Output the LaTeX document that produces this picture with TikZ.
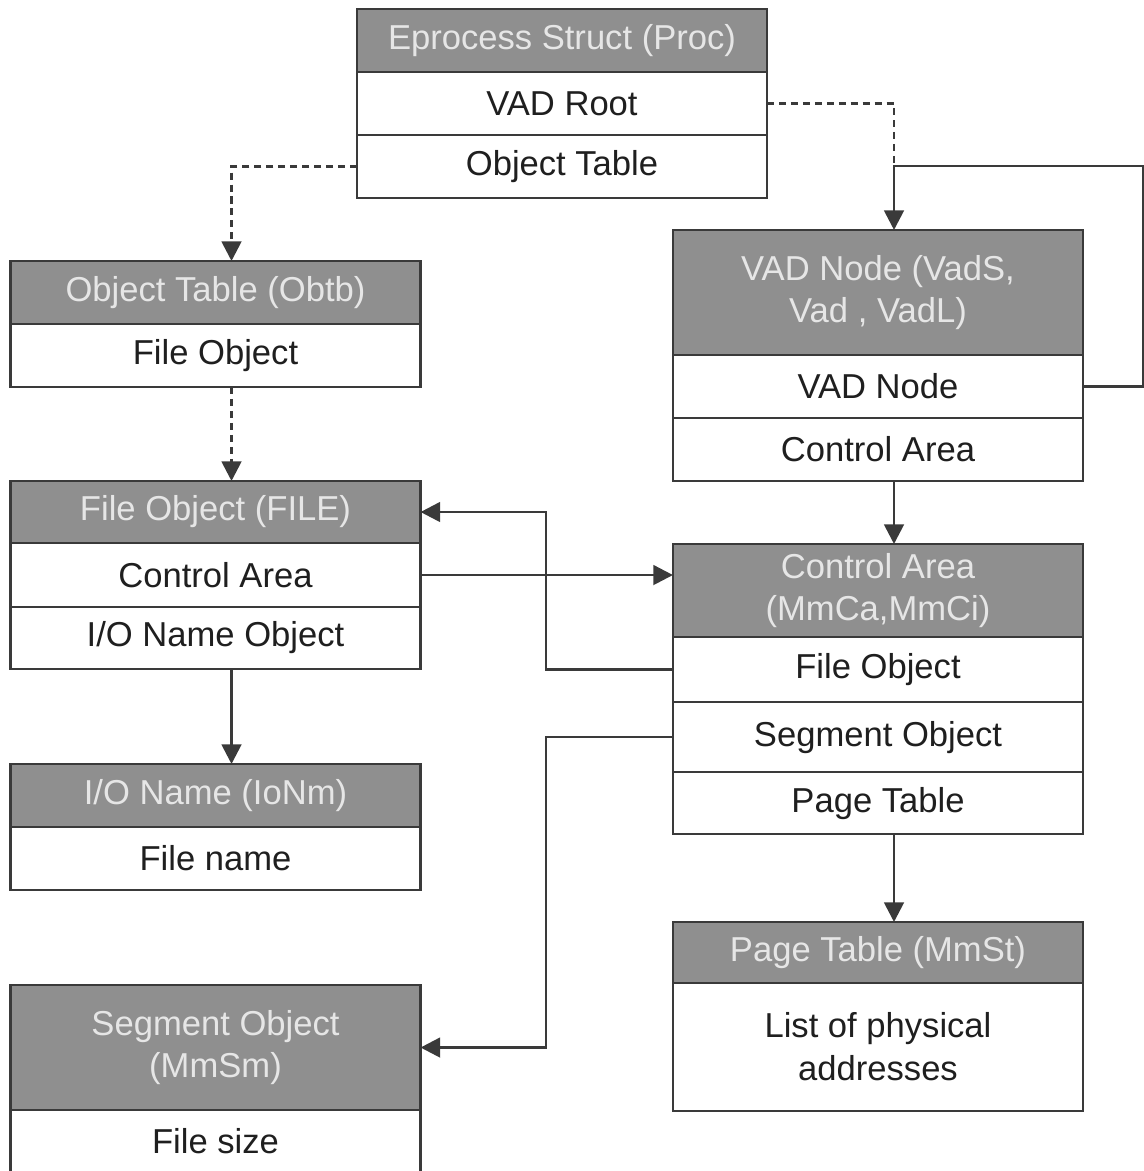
\documentclass[tikz,border=0pt]{standalone}
\usepackage{fontspec}
\setmainfont{Liberation Sans}
\usetikzlibrary{positioning,arrows.meta}
\definecolor{hdrgray}{HTML}{8F8F8F}
\definecolor{hdrtext}{HTML}{E6E6E6}
\definecolor{boxline}{HTML}{3A3A3A}
\tikzset{
	field/.style={draw=boxline, line width=2pt, fill=white, text=black!88,
		minimum width=10.25cm, minimum height=1.575cm, inner sep=0pt, outer sep=0pt, align=center},
	header/.style={field, fill=hdrgray, text=hdrtext},
	link/.style={draw=boxline, line width=2pt, -{Triangle[length=14pt,width=14pt]}},
	ptr/.style={link, dash pattern=on 5pt off 3.5pt},
}
\begin{document}
\begin{tikzpicture}[x=0.025cm, y=-0.025cm, font=\fontsize{24.6pt}{30.5pt}\selectfont]
	\useasboundingbox (0,0) rectangle (1144,1171);
	\def\ax{0.4cm}
	% Eprocess
	\node[header, anchor=north] (procHead) at (562,9) {Eprocess Struct (Proc)};
	\node[field, below=0pt of procHead] (procVad) {VAD Root};
	\node[field, below=0pt of procVad] (procObj) {Object Table};
	% object table
	\node[header, anchor=north] (obtbHead) at (215.5,261) {Object Table (Obtb)};
	\node[field, below=0pt of obtbHead] (obtbFile) {File Object};
	% VAD node
	\node[header, anchor=north, minimum height=3.125cm] (vadHead) at (878,230) {VAD Node (VadS,\\Vad , VadL)};
	\node[field, below=0pt of vadHead] (vadNode) {VAD Node};
	\node[field, below=0pt of vadNode] (vadCA) {Control Area};
	% file object
	\node[header, anchor=north, minimum height=1.55cm] (fileHead) at (215.5,481) {File Object (FILE)};
	\node[field, below=0pt of fileHead, minimum height=1.6cm] (fileCA) {Control Area};
	\node[field, below=0pt of fileCA, minimum height=1.55cm] (fileIO) {I/O Name Object};
	% control area
	\node[header, anchor=north, minimum height=2.325cm] (caHead) at (878,544) {Control Area\\(MmCa,MmCi)};
	\node[field, below=0pt of caHead, minimum height=1.625cm] (caFile) {File Object};
	\node[field, below=0pt of caFile, minimum height=1.75cm] (caSeg) {Segment Object};
	\node[field, below=0pt of caSeg, minimum height=1.55cm] (caPage) {Page Table};
	% I/O name
	\node[header, anchor=north] (ioHead) at (215.5,764) {I/O Name (IoNm)};
	\node[field, below=0pt of ioHead] (ioName) {File name};
	% page table
	\node[header, anchor=north, minimum height=1.525cm] (stHead) at (878,922) {Page Table (MmSt)};
	\node[field, below=0pt of stHead, minimum height=3.2cm] (stList) {List of physical\\addresses};
	% segment object
	\node[header, anchor=north, minimum height=3.125cm] (smHead) at (215.5,985) {Segment Object\\(MmSm)};
	\node[field, below=0pt of smHead] (smSize) {File size};
	% helpers
	\coordinate (vadIn) at ([xshift=\ax]vadHead.north);
	\coordinate (loopTop) at (1143,166);
	\coordinate (midCol) at (546,0);
	% connectors
	\draw[ptr] (procObj.west) -| ([xshift=\ax]obtbHead.north);
	\draw[ptr, -] (procVad.east) -| (vadIn |- loopTop);
	\draw[link] (vadNode.east) -| (loopTop) -- (vadIn |- loopTop) -- (vadIn);
	\draw[ptr] ([xshift=\ax]obtbFile.south) -- ([xshift=\ax]fileHead.north);
	\draw[link] ([xshift=\ax]vadCA.south) -- ([xshift=\ax]caHead.north);
	\draw[link] (fileCA.east) -- (fileCA.east -| caHead.west);
	\draw[link] (caFile.west) -- (caFile.west -| midCol) |- (fileHead.east);
	\draw[link] ([xshift=\ax]fileIO.south) -- ([xshift=\ax]ioHead.north);
	\draw[link] (caSeg.west) -- (caSeg.west -| midCol) |- (smHead.east);
	\draw[link] ([xshift=\ax]caPage.south) -- ([xshift=\ax]stHead.north);
\end{tikzpicture}
\end{document}
